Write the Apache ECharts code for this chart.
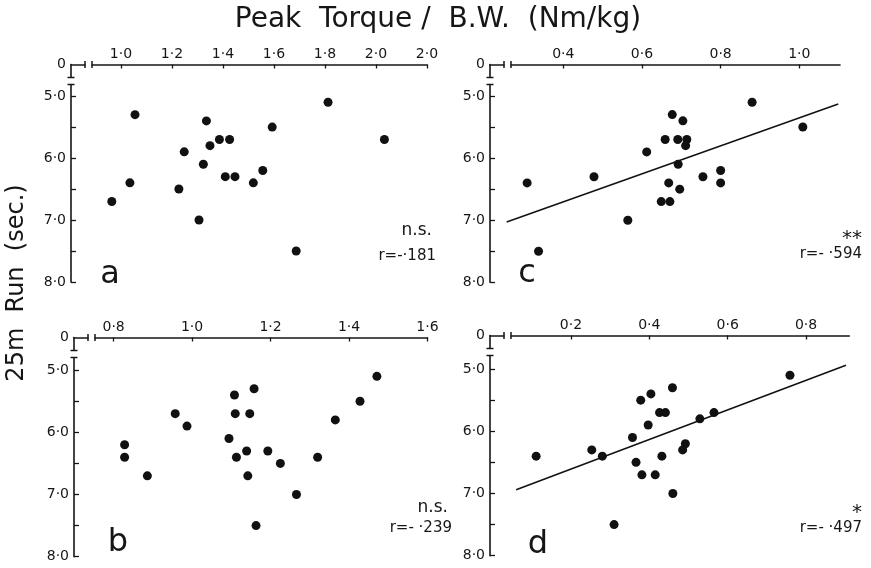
<!DOCTYPE html>
<html><head><meta charset="utf-8">
<script src="https://cdn.jsdelivr.net/npm/echarts@6/dist/echarts.min.js"></script>
<style>html,body{margin:0;padding:0;background:#fff}#c{width:871px;height:568px}</style>
</head><body><div id="c"></div>
<script>
// ---- data ----
// panel a
const aX = [0.964,1.055,1.035,1.227,1.248,1.306,1.323,1.335,1.349,1.386,1.426,1.409,1.447,1.519,1.556,1.593,1.687,1.812,2.033];
const aY = [6.7,5.3,6.4,6.5,5.9,7.0,6.1,5.4,5.8,5.7,5.7,6.3,6.3,6.4,6.2,5.5,7.5,5.1,5.7];
// panel c
const cX = [0.308,0.337,0.478,0.564,0.612,0.659,0.677,0.704,0.691,0.714,0.711,0.692,0.668,0.696,0.649,0.671,0.755,0.80,0.80,0.88,1.009];
const cY = [6.4,7.5,6.3,7.0,5.9,5.7,5.3,5.4,5.7,5.7,5.8,6.1,6.4,6.5,6.7,6.7,6.3,6.2,6.4,5.1,5.5];
const cLineX = [0.256, 1.099];
const cLineY = [7.03, 5.13];
// panel b
const bX = [0.828,0.828,0.886,0.957,0.987,1.094,1.108,1.110,1.113,1.139,1.142,1.147,1.158,1.163,1.193,1.225,1.266,1.32,1.365,1.428,1.471];
const bY = [6.2,6.4,6.7,5.7,5.9,6.1,5.4,5.7,6.4,6.3,6.7,5.7,5.3,7.5,6.3,6.5,7.0,6.4,5.8,5.5,5.1];
// panel d
const dX = [0.111,0.253,0.28,0.31,0.357,0.366,0.378,0.381,0.397,0.404,0.415,0.426,0.441,0.432,0.459,0.46,0.485,0.492,0.529,0.565,0.759];
const dY = [6.4,6.3,6.4,7.5,6.1,6.5,5.5,6.7,5.9,5.4,6.7,5.7,5.7,6.4,5.3,7.0,6.3,6.2,5.8,5.7,5.1];
const dLineX = [0.06, 0.902];
const dLineY = [6.94, 4.94];

// tick values / labels
const aTicks = [1.0,1.2,1.4,1.6,1.8,2.0,2.2];
const aTickLabels = ['1·0','1·2','1·4','1·6','1·8','2·0','2·0'];
const cTicks = [0.4,0.6,0.8,1.0];
const cTickLabels = ['0·4','0·6','0·8','1·0'];
const bTicks = [0.8,1.0,1.2,1.4,1.6];
const bTickLabels = ['0·8','1·0','1·2','1·4','1·6'];
const dTicks = [0.2,0.4,0.6,0.8];
const dTickLabels = ['0·2','0·4','0·6','0·8'];
const yTicks = [5.0,5.5,6.0,6.5,7.0,7.5,8.0];
const yLabelVals = [5.0,6.0,7.0,8.0];
const yTickLabels = ['5·0','6·0','7·0','8·0'];

const panelLetters = ['a','c','b','d'];
const sigText = ['n.s.','**','n.s.','*'];
const rText = ['r=-·181','r=- ·594','r=- ·239','r=- ·497'];

// ---- layout ----
const FONT = '"DejaVu Sans", sans-serif';
const INK = '#161616';
const grids = [
  {left:71,  top:64.5,  width:356,   height:217.5},
  {left:490, top:64.5,  width:350,   height:217.8},
  {left:74,  top:337.5, width:353.5, height:219.2},
  {left:490, top:335.5, width:359.3, height:220.2}
];
const xRanges = [[0.804,2.2],[0.2136,1.1035],[0.699,1.6],[-0.0068,0.9105]];
const yMins = [4.49,4.493,4.475,4.461];
const xT = [aTicks,cTicks,bTicks,dTicks];
const xL = [aTickLabels,cTickLabels,bTickLabels,dTickLabels];
const pts = [[aX,aY],[cX,cY],[bX,bY],[dX,dY]];

const zip = (xs,ys)=>xs.map((v,i)=>[v,ys[i]]);
const axisLine = {show:true, onZero:false, lineStyle:{color:INK, width:1.6}};

const xAxis = [], yAxis = [], series = [];
for (let i=0;i<4;i++){
  const ticks = xT[i], labs = xL[i];
  xAxis.push({
    type:'value', gridIndex:i, position:'top', min:xRanges[i][0], max:xRanges[i][1],
    axisLine, splitLine:{show:false},
    axisTick:{show:true, inside:true, length:4, customValues:ticks, lineStyle:{color:INK,width:1.3}},
    axisLabel:{customValues:ticks, margin:3, color:INK, fontSize:14, fontFamily:FONT,
      formatter:(v)=>{const k=ticks.findIndex(t=>Math.abs(t-v)<1e-9);return k>=0?labs[k]:'';}}
  });
  const ym = yMins[i];
  yAxis.push({
    type:'value', gridIndex:i, inverse:true, min:ym, max:8.0,
    axisLine, splitLine:{show:false},
    axisTick:{show:true, inside:true, length:5, customValues:yTicks, lineStyle:{color:INK,width:1.3}},
    axisLabel:{customValues:[ym].concat(yLabelVals), margin:5, color:INK, fontSize:14, fontFamily:FONT,
      formatter:(v)=>{ if (Math.abs(v-ym)<1e-9) return '0'; const k=yLabelVals.findIndex(t=>Math.abs(t-v)<1e-9); return k>=0?yTickLabels[k]:''; }}
  });
  series.push({type:'scatter', xAxisIndex:i, yAxisIndex:i, data:zip(pts[i][0],pts[i][1]),
    symbolSize:9, itemStyle:{color:'#111', opacity:1}, silent:true});
}
series.push({type:'line', xAxisIndex:1, yAxisIndex:1, data:zip(cLineX,cLineY), symbol:'none',
  lineStyle:{color:'#111', width:1.5}, silent:true});
series.push({type:'line', xAxisIndex:3, yAxisIndex:3, data:zip(dLineX,dLineY), symbol:'none',
  lineStyle:{color:'#111', width:1.5}, silent:true});

// ---- decorations ----
const graphic = [];
function txt(x,y,text,size,align,valign,extra){
  graphic.push(Object.assign({type:'text', x, y, z:100, silent:true,
    style:{text, fill:INK, font:size+'px '+FONT, align, verticalAlign:valign, textAlign:align, textVerticalAlign:valign}}, extra||{}));
}
function seg(x1,y1,x2,y2){
  graphic.push({type:'line', z:101, silent:true, shape:{x1,y1,x2,y2}, style:{stroke:INK, lineWidth:1.5}});
}
function wipe(x,y,w,h){
  graphic.push({type:'rect', z:100, silent:true, shape:{x,y,width:w,height:h}, style:{fill:'#fff'}});
}
grids.forEach(g=>{
  const L=g.left, T=g.top;
  // x-axis break
  wipe(L+14.5, T-3, 6, 6);
  seg(L+14, T-3.5, L+14, T+3.5);
  seg(L+21, T-3.5, L+21, T+3.5);
  // y-axis break
  wipe(L-3, T+13.5, 6, 6);
  seg(L-3.5, T+13, L+3.5, T+13);
  seg(L-3.5, T+20, L+3.5, T+20);
});

txt(438, 20, 'Peak  Torque /  B.W.  (Nm/kg)', 28, 'center', 'middle');
txt(17, 283, '25m  Run  (sec.)', 24, 'center', 'middle', {rotation:Math.PI/2});

// panel letters
txt(110, 275, panelLetters[0], 32, 'center', 'middle');
txt(527, 274, panelLetters[1], 32, 'center', 'middle');
txt(118, 543, panelLetters[2], 32, 'center', 'middle');
txt(538, 545, panelLetters[3], 32, 'center', 'middle');

// significance / r
txt(432, 231, sigText[0], 17, 'right', 'middle');
txt(436, 256, rText[0], 15, 'right', 'middle');
txt(862, 239, sigText[1], 20, 'right', 'middle');
txt(862, 254, rText[1], 15, 'right', 'middle');
txt(448, 508, sigText[2], 17, 'right', 'middle');
txt(452, 528, rText[2], 15, 'right', 'middle');
txt(862, 513, sigText[3], 20, 'right', 'middle');
txt(862, 528, rText[3], 15, 'right', 'middle');

const chart = echarts.init(document.getElementById('c'), null, {renderer:'canvas'});
chart.setOption({
  backgroundColor:'#fff', animation:false,
  grid: grids.map(g=>Object.assign({containLabel:false}, g)),
  xAxis, yAxis, series, graphic
});
</script></body></html>
